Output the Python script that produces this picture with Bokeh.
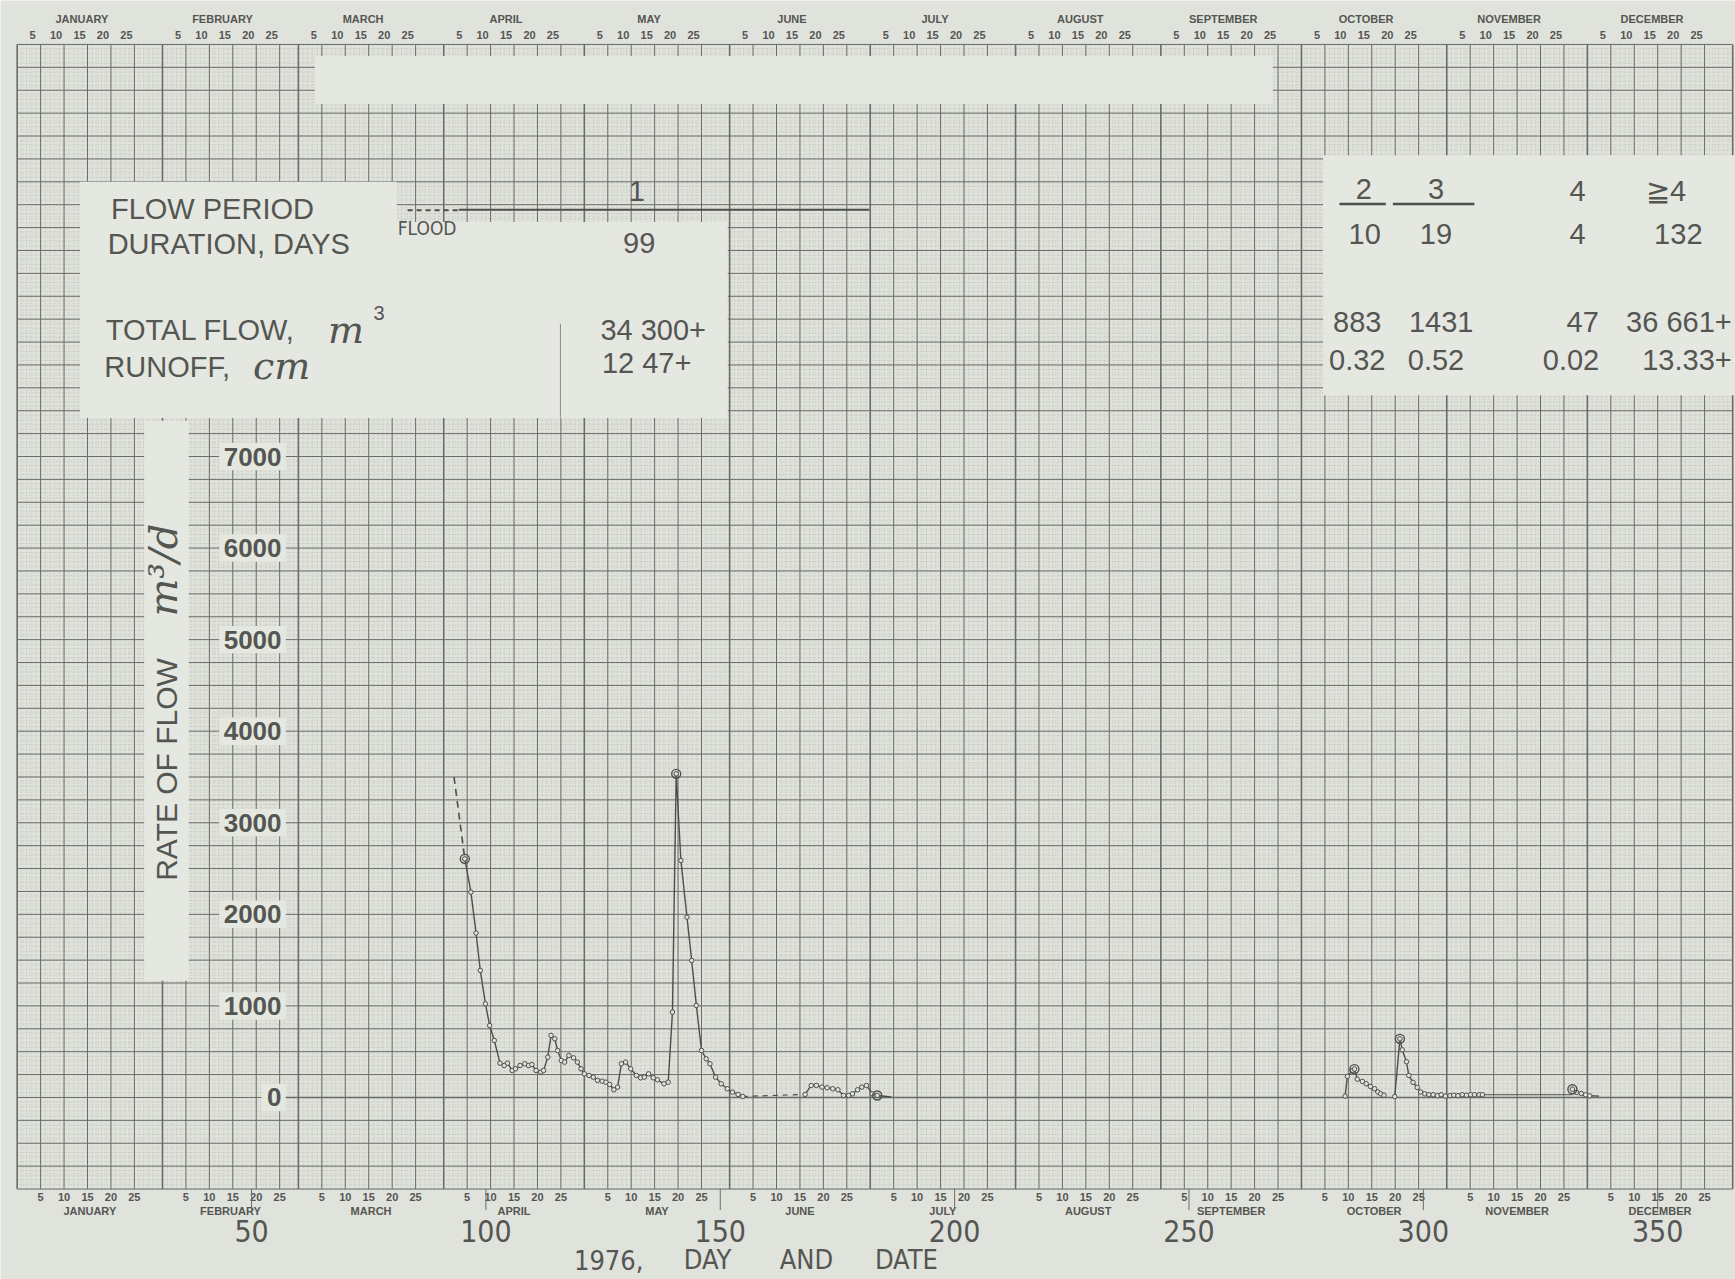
import numpy as np
from bokeh.plotting import figure
from bokeh.models import Range1d
from bokeh.core.properties import value
from bokeh.embed import file_html
from bokeh.resources import INLINE

# ---- 1976 calendar (leap year) ----
MONTHS = ["JANUARY", "FEBRUARY", "MARCH", "APRIL", "MAY", "JUNE",
          "JULY", "AUGUST", "SEPTEMBER", "OCTOBER", "NOVEMBER", "DECEMBER"]
MONTH_LENGTHS = [31, 29, 31, 30, 31, 30, 31, 31, 30, 31, 30, 31]
DAY_MARKS = [5, 10, 15, 20, 25]

DAY_TICKS = [50, 100, 150, 200, 250, 300, 350]
FLOW_TICKS = [0, 1000, 2000, 3000, 4000, 5000, 6000, 7000]

# ---- daily rate of flow, m3/d ----
# spring flood (flow period 1)
lead_day = [93.2, 95.5]
lead_flow = [3500, 2606]

flood_day = [95.5, 96.8, 97.9, 98.8, 99.9, 100.8, 101.8, 103.0, 103.9, 104.6,
             105.6, 106.3, 107.3, 108.3, 109.1, 109.8, 110.7, 111.7, 112.3, 113.2,
             113.9, 114.7, 115.3, 116.1, 116.8, 117.7, 118.7, 119.5, 120.3, 121.0,
             122.0, 122.9, 123.8, 124.8, 125.6, 126.4, 127.3, 128.1, 128.9, 129.8,
             130.9, 132.1, 133.0, 133.8, 134.7, 135.7, 136.6, 138.0, 138.9, 139.8,
             140.6, 141.6, 142.9, 143.9, 144.9, 146.0, 147.0, 147.8, 149.0, 150.2,
             151.5, 152.6, 153.8, 154.8]
flood_flow = [2606, 2242, 1795, 1387, 1023, 786, 622, 375, 349, 375,
              295, 313, 349, 368, 349, 360, 295, 277, 295, 440,
              677, 641, 513, 404, 386, 459, 433, 386, 313, 258,
              240, 222, 186, 178, 167, 142, 84, 113, 368, 386,
              313, 240, 215, 222, 258, 215, 193, 149, 167, 932,
              3534, 2588, 1969, 1496, 1005, 513, 422, 368, 222, 149,
              95, 58, 33, 11]

gap_day = [154.8, 168.1]
gap_flow = [11, 33]

summer_day = [168.1, 169.4, 170.5, 171.7, 172.8, 174.0, 175.1, 176.3, 177.4,
              178.2, 179.3, 180.2, 181.2, 182.4, 183.5]
summer_flow = [33, 131, 131, 113, 106, 95, 84, 22, 22, 40, 84, 113, 131, 40, 22]
summer_tail_day = [183.5, 186.5]
summer_tail_flow = [22, 5]

# flow period 2
p2_day = [283.3, 283.8, 284.8, 285.3, 285.9, 287.0, 287.8, 288.7, 289.6, 290.3, 290.9, 291.6]
p2_flow = [15, 230, 290, 310, 200, 175, 150, 120, 95, 60, 40, 25]

# flow period 3
p3_day = [293.9, 295.0, 295.5, 296.4, 296.9, 297.8, 298.7, 299.4, 300.3, 301.2,
          302.1, 303.0, 303.8, 304.7, 305.7, 306.5, 307.4, 308.3, 309.2, 310.1,
          310.9, 311.9, 312.6]
p3_flow = [10, 640, 520, 390, 240, 165, 110, 60, 40, 30,
           30, 20, 30, 15, 20, 25, 20, 30, 25, 30,
           30, 30, 30]

base_day = [312.6, 331.8]
base_flow = [30, 30]

# flow period 4
p4_day = [331.8, 332.7, 333.7, 334.6, 335.5]
p4_flow = [90, 55, 44, 29, 18]
p4_tail_day = [335.5, 337.5]
p4_tail_flow = [18, 15]

# ---- summary table ----
PERIODS = ["1", "2", "3", "4", "≧4"]
DURATIONS = ["99", "10", "19", "4", "132"]
TOTAL_FLOWS = ["34 300+", "883", "1431", "47", "36 661+"]
RUNOFFS = ["12 47+", "0.32", "0.52", "0.02", "13.33+"]

# ---- colours & fonts ----
MARGIN = "#e0e2dc"
PAPER = "#dfe2da"
PATCH = "#e5e7e1"
LINE_MAJOR = "#6a6d67"
LINE_FINE = "#8e928b"
INK = "#4d4f4a"
TEXT = "#545651"
SANS = value("Liberation Sans")
NARROW = value("Liberation Sans Narrow, DejaVu Sans Condensed, Liberation Sans")
SCRIPT = value("DejaVu Serif")

p = figure(width=1735, height=1279,
           x_range=Range1d(-3.56, 366.6), y_range=Range1d(-1988, 11980),
           output_backend="svg", toolbar_location=None,
           x_axis_type=None, y_axis_type=None, min_border=0)
p.background_fill_color = MARGIN
p.border_fill_color = MARGIN
p.outline_line_color = None

# ---- graph paper ----
starts = np.cumsum([0] + MONTH_LENGTHS)
paper_top, paper_bottom = 11500, -1000
p.quad(left=[0], right=[366], bottom=[paper_bottom], top=[paper_top],
       fill_color=PAPER, line_color=None)

fine_x = np.arange(0, 367)
fine_y = np.arange(paper_bottom, paper_top + 1, 50)
p.segment(x0=fine_x, y0=paper_bottom, x1=fine_x, y1=paper_top,
          line_color=LINE_FINE, line_width=0.8, line_dash="1 2", line_alpha=0.45)
p.segment(x0=0, y0=fine_y, x1=366, y1=fine_y,
          line_color=LINE_FINE, line_width=0.8, line_dash="1 2", line_alpha=0.45)

major_x = [s + d for s in starts[:-1] for d in DAY_MARKS]
major_y = np.arange(paper_bottom, paper_top + 1, 250)
p.segment(x0=major_x, y0=paper_bottom, x1=major_x, y1=paper_top,
          line_color=LINE_MAJOR, line_width=1.0)
p.segment(x0=0, y0=major_y, x1=366, y1=major_y,
          line_color=LINE_MAJOR, line_width=1.0)
p.segment(x0=starts, y0=paper_bottom, x1=starts, y1=paper_top,
          line_color=LINE_MAJOR, line_width=1.6)

# pasted-over panels
p.quad(left=[63.5, 13.4, 13.4, 278.6, 27.1],
       right=[267.9, 81.0, 151.6, 370.0, 36.6],
       top=[11375, 10000, 9560, 10290, 7390],
       bottom=[10850, 9560, 7420, 7670, 1275],
       fill_color=PATCH, line_color=None)
p.segment(x0=[115.9], y0=[8450], x1=[115.9], y1=[7425], line_color="#8a8c87", line_width=1)

# zero line
p.line([57, 366], [0, 0], line_color=LINE_MAJOR, line_width=1.5)

# ---- y tick labels with their paper boxes ----
ylab = [str(t) for t in FLOW_TICKS]
box_w = [2.2 + 3.0 * len(s) for s in ylab]
p.quad(left=[57.3 - w for w in box_w], right=[57.3] * len(ylab),
       top=[t + 150 for t in FLOW_TICKS], bottom=[t - 150 for t in FLOW_TICKS],
       fill_color=PATCH, line_color=None)
p.text(x=[56.4] * len(ylab), y=FLOW_TICKS, text=ylab, text_align="right",
       text_baseline="middle", text_font=SANS, text_font_style="bold",
       text_font_size="26px", text_color=TEXT)

# ---- hydrograph ----
p.line(lead_day, lead_flow, line_color=INK, line_width=1.6, line_dash="7 5")
p.line(gap_day, gap_flow, line_color=INK, line_width=1.2, line_dash="5 5")
p.line(base_day, base_flow, line_color=INK, line_width=1.0)
for xs, ys in [(flood_day, flood_flow), (summer_day, summer_flow),
               (summer_tail_day, summer_tail_flow), (p2_day, p2_flow),
               (p3_day, p3_flow), (p4_day, p4_flow), (p4_tail_day, p4_tail_flow)]:
    p.line(xs, ys, line_color=INK, line_width=1.4)
for xs, ys in [(flood_day, flood_flow), (summer_day, summer_flow),
               (p2_day, p2_flow), (p3_day, p3_flow), (p4_day, p4_flow)]:
    p.scatter(xs, ys, marker="circle", size=4.5, fill_color=PAPER,
              line_color=INK, line_width=1)
peaks_day = [flood_day[0], flood_day[50], summer_day[-1], p2_day[3], p3_day[1], p4_day[0]]
peaks_flow = [flood_flow[0], flood_flow[50], summer_flow[-1], p2_flow[3], p3_flow[1], p4_flow[0]]
p.scatter(peaks_day, peaks_flow, marker="circle", size=9, fill_color=None,
          line_color=INK, line_width=1.4)

# ---- y-axis title ----
p.text(x=[31.9], y=[3582], text=["RATE OF FLOW"], angle=np.pi / 2,
       text_align="center", text_baseline="middle", text_font=SANS,
       text_font_size="30px", text_color=TEXT)
p.text(x=[31.2], y=[5760], text=["m³/d"], angle=np.pi / 2,
       text_align="center", text_baseline="middle", text_font=SCRIPT,
       text_font_style="italic", text_font_size="40px", text_color=TEXT)

# ---- summary table, left block ----
p.text(x=[20.0, 19.3, 18.9, 18.6], y=[9708, 9322, 8379, 7980],
       text=["FLOW PERIOD", "DURATION, DAYS", "TOTAL FLOW,", "RUNOFF,"],
       text_align="left", text_baseline="middle", text_font=SANS,
       text_font_size="29px", text_color=TEXT)
p.text(x=[66.3, 50.3], y=[8379, 7985], text=["m", "cm"], text_align="left",
       text_baseline="middle", text_font=SCRIPT, text_font_style="italic",
       text_font_size="38px", text_color=TEXT)
p.text(x=[76.0], y=[8570], text=["3"], text_align="left", text_baseline="middle",
       text_font=SANS, text_font_size="20px", text_color=TEXT)
p.text(x=[81.2], y=[9500], text=["FLOOD"], text_align="left", text_baseline="middle",
       text_font=NARROW, text_font_size="19px", text_color=TEXT)
p.line([83.3, 94.2], [9690, 9690], line_color=INK, line_width=2, line_dash="5 4")
p.line([94.2, 181.8], [9695, 9695], line_color=INK, line_width=2)
p.text(x=[132.2, 132.7, 135.7, 134.3], y=[9902, 9334, 8379, 8016],
       text=[PERIODS[0], DURATIONS[0], TOTAL_FLOWS[0], RUNOFFS[0]],
       text_align="center", text_baseline="middle", text_font=SANS,
       text_font_size="29px", text_color=TEXT)

# ---- summary table, right block ----
p.line([282.1, 292.0], [9757, 9757], line_color=INK, line_width=2.5)
p.line([293.5, 310.9], [9757, 9757], line_color=INK, line_width=2.5)
p.text(x=[287.3, 302.7, 332.9, 351.8], y=[9926, 9926, 9902, 9902], text=PERIODS[1:],
       text_align="center", text_baseline="middle", text_font=SANS,
       text_font_size="29px", text_color=TEXT)
p.text(x=[287.5, 302.7, 332.9, 354.4], y=[9430] * 4, text=DURATIONS[1:],
       text_align="center", text_baseline="middle", text_font=SANS,
       text_font_size="29px", text_color=TEXT)
p.text(x=[285.9, 303.8, 334.0], y=[8464] * 3, text=TOTAL_FLOWS[1:4],
       text_align="center", text_baseline="middle", text_font=SANS,
       text_font_size="29px", text_color=TEXT)
p.text(x=[285.9, 302.7, 331.5], y=[8053] * 3, text=RUNOFFS[1:4],
       text_align="center", text_baseline="middle", text_font=SANS,
       text_font_size="29px", text_color=TEXT)
p.text(x=[365.8, 365.8], y=[8464, 8053], text=[TOTAL_FLOWS[4], RUNOFFS[4]],
       text_align="right", text_baseline="middle", text_font=SANS,
       text_font_size="29px", text_color=TEXT)

# ---- calendar scales ----
mids = starts[:-1] + np.array(MONTH_LENGTHS) / 2.0
mark_x = [s + d for s in starts[:-1] for d in DAY_MARKS]
mark_t = [str(d) for _ in MONTHS for d in DAY_MARKS]
top_shift = -1.7
for y_num, y_name, shift in [(-1083, -1240, 0.0), (11605, 11775, top_shift)]:
    p.text(x=[x + shift for x in mark_x], y=[y_num] * len(mark_x), text=mark_t,
           text_align="center", text_baseline="middle", text_font=SANS,
           text_font_style="bold", text_font_size="11px", text_color=TEXT)
    p.text(x=[x + shift for x in mids], y=[y_name] * 12, text=MONTHS,
           text_align="center", text_baseline="middle", text_font=SANS,
           text_font_style="bold", text_font_size="11px", text_color=TEXT)

# day-of-year ticks and labels
p.segment(x0=DAY_TICKS, y0=-1000, x1=DAY_TICKS, y1=-1230, line_color=LINE_MAJOR, line_width=1)
p.text(x=DAY_TICKS, y=[-1457] * len(DAY_TICKS), text=[str(d) for d in DAY_TICKS],
       text_align="center", text_baseline="middle", text_font=NARROW,
       text_font_size="30px", text_color=TEXT)
p.text(x=[126.2, 147.3, 168.4, 189.7], y=[-1775] * 4,
       text=["1976,", "DAY", "AND", "DATE"], text_align="center",
       text_baseline="middle", text_font=NARROW, text_font_size="27px",
       text_color=TEXT)

open("out.html", "w").write(file_html(p, INLINE))
